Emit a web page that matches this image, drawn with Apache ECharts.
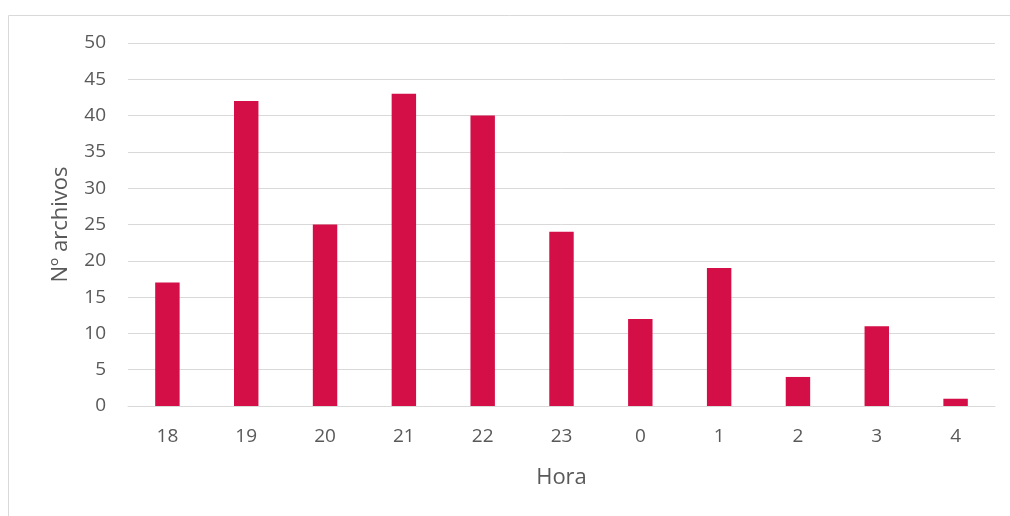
<!DOCTYPE html>
<html><head><meta charset="utf-8">
<script src="https://cdn.jsdelivr.net/npm/echarts@6/dist/echarts.min.js"></script>
<style>html,body{margin:0;padding:0;background:#fff}#c{width:1010px;height:516px}</style>
</head><body><div id="c"></div>
<script>
const categories = ['18','19','20','21','22','23','0','1','2','3','4'];
const values = [17,42,25,43,40,24,12,19,4,11,1];
const yTicks = [0,5,10,15,20,25,30,35,40,45,50];

const chart = echarts.init(document.getElementById('c'));
const font = '"Open Sans", "Liberation Sans", sans-serif';
chart.setOption({
  animation:false,
  graphic:[{type:'rect',shape:{x:8.5,y:15.5,width:1010,height:520},style:{fill:'none',stroke:'#d9d9d9',lineWidth:1},silent:true}],
  grid:{left:128,right:15,top:43,bottom:110},
  xAxis:{type:'category',data:categories,
    name:'Hora',nameLocation:'middle',nameGap:61,
    nameTextStyle:{color:'#595959',fontSize:22,fontFamily:font},
    axisLine:{lineStyle:{color:'#d9d9d9',width:1}},axisTick:{show:false},
    axisLabel:{color:'#595959',fontSize:19,fontFamily:font,margin:21}},
  yAxis:{type:'value',min:yTicks[0],max:yTicks[yTicks.length-1],interval:5,
    name:'Nº archivos',nameLocation:'middle',nameGap:56,
    nameTextStyle:{color:'#595959',fontSize:22,fontFamily:font},
    axisLine:{show:false},axisTick:{show:false},
    axisLabel:{color:'#595959',fontSize:19,fontFamily:font,margin:22},
    splitLine:{lineStyle:{color:'#d9d9d9',width:1}}},
  series:[{type:'bar',data:values,barWidth:'31%',itemStyle:{color:'#D40E47'}}]
});
</script></body></html>
